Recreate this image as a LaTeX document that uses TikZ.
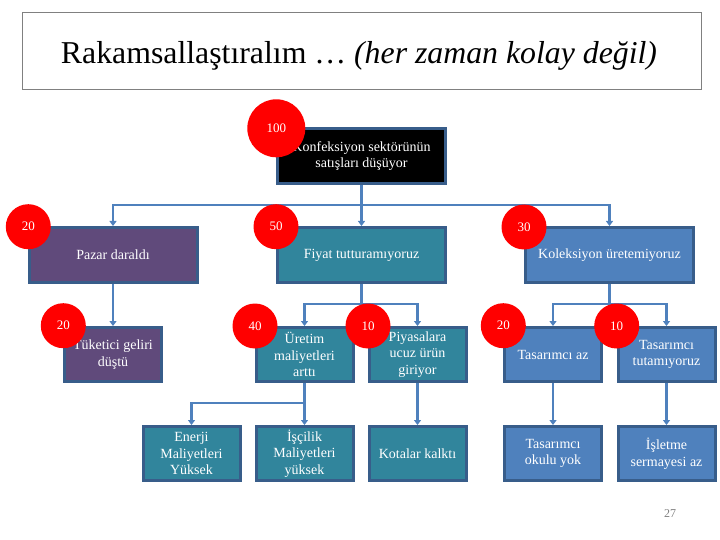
\documentclass[tikz,border=0pt]{standalone}
\usepackage{fontspec}
\setmainfont{Liberation Serif}
\usetikzlibrary{arrows.meta}
\definecolor{bordc}{HTML}{385D8A}
\definecolor{purp}{HTML}{604A7B}
\definecolor{teal}{HTML}{31859C}
\definecolor{blu}{HTML}{4F81BD}
\definecolor{conc}{HTML}{4F81BD}
\definecolor{titleb}{HTML}{808080}
\begin{document}
\begin{tikzpicture}[x=1pt,y=-1pt,
  box/.style={draw=bordc,line width=3pt,rectangle,inner sep=0pt,text=white,align=center,
    font=\fontsize{14}{16.5}\selectfont},
  bigbox/.style={box,minimum width=168pt,minimum height=55pt},
  smallbox/.style={box,minimum width=97pt,minimum height=54pt},
  badge/.style={circle,fill=red,inner sep=0pt,text=white,font=\fontsize{13}{13}\selectfont},
  bigbadge/.style={badge,minimum size=58pt},
  smallbadge/.style={badge,minimum size=45pt},
  conn/.style={draw=conc,line width=2.5pt},
  arr/.style={conn,-{Triangle[length=5pt,width=7pt]}}
]
\useasboundingbox (0,0) rectangle (720,540);
% title
\node[draw=titleb,line width=1pt,minimum width=679pt,minimum height=77pt,inner sep=0pt] (tbox) at (362,51) {};
\node[anchor=base,font=\fontsize{31.8}{32}\selectfont,inner sep=0pt] (title) at (359,63.3)
  {Rakamsallaştıralım … \textit{(her zaman kolay değil)}};
% boxes
\node[bigbox,fill=black] (root) at (361.5,156) {Konfeksiyon sektörünün\\satışları düşüyor};
\node[bigbox,fill=purp] (pazar) at (113,255) {Pazar daraldı};
\node[bigbox,fill=teal] (fiyat) at (361.5,255) {Fiyat tutturamıyoruz};
\node[bigbox,fill=blu] (kol) at (609.5,255) {Koleksiyon üretemiyoruz};
\node[smallbox,fill=purp] (tuk) at (113,354.5) {Tüketici geliri\\düştü};
\node[smallbox,fill=teal] (uret) at (304.5,354.5) {Üretim\\maliyetleri\\arttı};
\node[smallbox,fill=teal] (piy) at (417.5,354.5) {Piyasalara\\ucuz ürün\\giriyor};
\node[smallbox,fill=blu] (taz) at (553,354.5) {Tasarımcı az};
\node[smallbox,fill=blu] (tut) at (666.5,354.5) {Tasarımcı\\tutamıyoruz};
\node[smallbox,fill=teal] (ene) at (191.5,453.5) {Enerji\\Maliyetleri\\Yüksek};
\node[smallbox,fill=teal] (isc) at (304.5,453.5) {İşçilik\\Maliyetleri\\yüksek};
\node[smallbox,fill=teal] (kot) at (417.5,453.5) {Kotalar kalktı};
\node[smallbox,fill=blu] (oku) at (553,453.5) {Tasarımcı\\okulu yok};
\node[smallbox,fill=blu] (ise) at (666.5,453.5) {İşletme\\sermayesi az};
% connectors
\coordinate (j1) at (361.5,205);
\draw[conn] (root.south) -- (j1);
\draw[arr] (j1) -| (pazar.north);
\draw[arr] (j1) -- (fiyat.north);
\draw[arr] (j1) -| (kol.north);
\coordinate (j2) at (361.5,304);
\draw[conn] (fiyat.south) -- (j2);
\draw[arr] (j2) -| (uret.north);
\draw[arr] (j2) -| (piy.north);
\coordinate (j3) at (304.5,403);
\draw[conn] (uret.south) -- (j3);
\draw[arr] (j3) -| (ene.north);
\draw[arr] (j3) -- (isc.north);
\coordinate (j4) at (609.5,304);
\draw[conn] (kol.south) -- (j4);
\draw[arr] (j4) -| (taz.north);
\draw[arr] (j4) -| (tut.north);
\draw[arr] (pazar.south) -- (tuk.north);
\draw[arr] (piy.south) -- (kot.north);
\draw[arr] (taz.south) -- (oku.north);
\draw[arr] (tut.south) -- (ise.north);
% badges
\node[bigbadge] (c100) at (276.3,128.3) {100};
\node[smallbadge] (c20a) at (28.3,226.7) {20};
\node[smallbadge] (c50) at (276,226.7) {50};
\node[smallbadge] (c30) at (524,227) {30};
\node[smallbadge] (c20b) at (63.3,325.7) {20};
\node[smallbadge] (c40) at (255,326) {40};
\node[smallbadge] (c10a) at (368,326) {10};
\node[smallbadge] (c20c) at (503.3,325.7) {20};
\node[smallbadge] (c10b) at (616.7,326) {10};
% page number
\node[text=titleb,font=\fontsize{12}{12}\selectfont] (pg) at (670,514) {27};
\end{tikzpicture}
\end{document}
